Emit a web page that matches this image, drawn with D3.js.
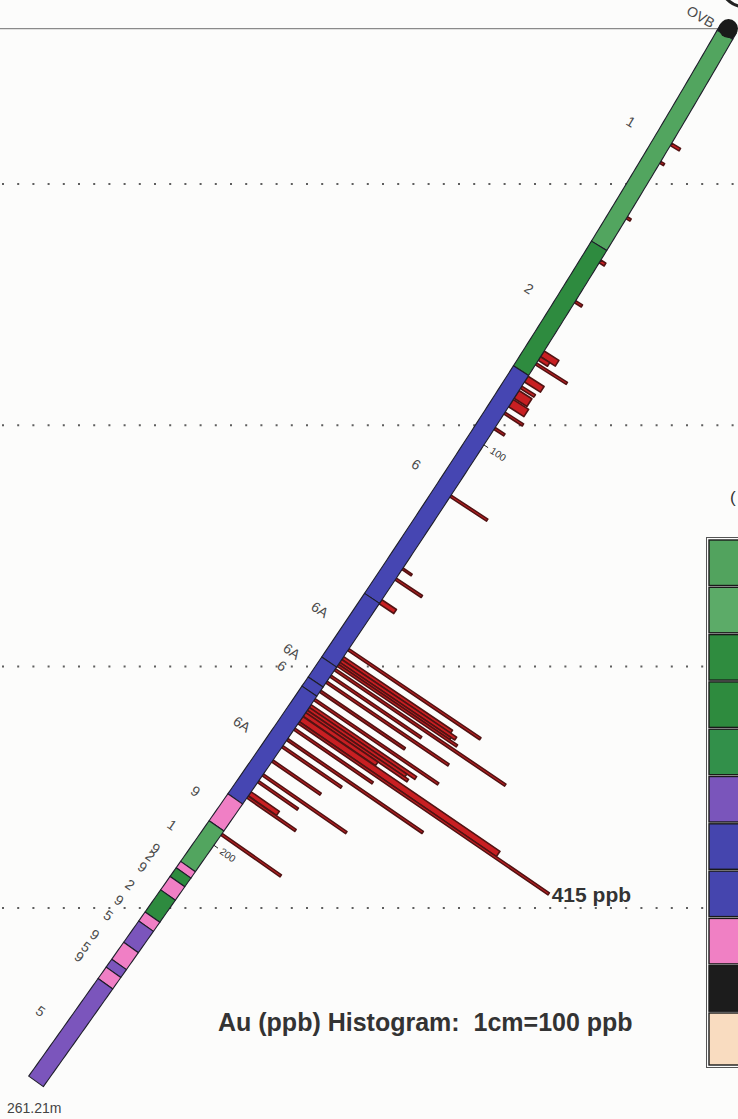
<!DOCTYPE html>
<html><head><meta charset="utf-8">
<script src="https://cdn.jsdelivr.net/npm/d3@7"></script>
<style>
html,body{margin:0;padding:0;background:#fcfcfb;}
svg{display:block;}
text{font-family:"Liberation Sans",Arial,sans-serif;}
</style></head>
<body>
<svg id="chart" width="738" height="1119"></svg>
<script>
// Downhole survey: measured depth (m) and dip below horizontal (degrees)
const surveyDepth = [0, 50, 100, 150, 200, 261.21];
const surveyDip   = [60, 58.5, 57, 56, 55, 54.5];
const holeLength = 261.21;
const collarElevation = 332.2;          // m
const gridElevations = [300, 250, 200, 150];
const depthTicks = [100, 200];

// Logged lithology intervals (m) and unit codes
const lithFrom = [0, 1.5, 52.4, 82.9, 139.3, 155.2, 160.2, 162.5, 189.6, 196.4, 206.7, 208.3, 210.5, 213.9, 219.5, 221.8, 227.2, 231.5, 233.5, 236.4];
const lithTo   = [1.5, 52.4, 82.9, 139.3, 155.2, 160.2, 162.5, 189.6, 196.4, 206.7, 208.3, 210.5, 213.9, 219.5, 221.8, 227.2, 231.5, 233.5, 236.4, 261.21];
const lithCode = ["OVB", "1", "2", "6", "6A", "6A", "6", "6A", "9", "1", "9", "2", "9", "2", "9", "5", "9", "5", "9", "5"];

// Au assay intervals (m) and grades (ppb)
const auFrom = [26.4, 30.8, 44.2, 54.7, 64.6, 76.9, 78.3, 79.8, 83.1, 85.5, 86.6, 88.8, 91.9, 95.7,
                112.4, 130.5, 133.0, 138.4,
                150.6, 152.6, 153.3, 154.0, 154.5, 155.6, 157.2, 158.7, 161.0, 163.1, 164.6, 165.3, 166.0, 166.6, 167.6, 168.9, 170.5, 173.1, 174.9, 178.5, 182.0, 183.7, 186.5, 187.6, 197.0];
const auTo   = [27.0, 31.3, 44.7, 55.4, 65.1, 78.3, 79.2, 80.3, 84.5, 86.1, 88.5, 90.6, 92.4, 96.2,
                112.9, 130.9, 133.5, 139.4,
                151.1, 153.3, 154.0, 154.5, 155.0, 156.1, 157.7, 159.2, 161.5, 163.6, 165.3, 166.0, 166.6, 167.5, 168.9, 169.4, 171.0, 173.6, 175.4, 179.0, 182.5, 184.2, 187.5, 188.1, 197.5];
const auPpb  = [14, 6, 6, 8, 11, 24, 15, 50, 26, 22, 21, 25, 30, 16,
                60, 15, 43, 24,
                218, 180, 190, 184, 197, 282, 150, 202, 140, 205, 175, 162, 168, 120, 327, 415, 130, 225, 98, 80, 139, 66, 47, 80, 99];

// Legend swatches
const legendColors = ["#52a35e", "#5cab68", "#2f8c3f", "#2e8b3e", "#32904a", "#7a55bb", "#4545ae", "#4545ae", "#f080c4", "#1c1c1c", "#f9dcc0"];

const unitColor = {"OVB": "#1c1c1c", "1": "#52a55f", "2": "#2e8b3f", "6": "#4646b2", "6A": "#4646b2", "5": "#7b55bc", "9": "#f07fc5"};

const W = 738, H = 1119;
const svg = d3.select("#chart");
svg.append("rect").attr("width", W).attr("height", H).attr("fill", "#fcfcfb");

// Section scales (equal metres per pixel on both axes)
const pxPerM = 4.826;
const collarX = 728.5;
const x = d3.scaleLinear().domain([0, -100]).range([collarX, collarX - 100 * pxPerM]);
const y = d3.scaleLinear().domain([300, 250]).range([184, 184 + 50 * pxPerM]);
const dipAt = d3.scaleLinear().domain(surveyDepth).range(surveyDip).clamp(true);
const barLen = d3.scaleLinear().domain([0, 100]).range([0, 73]);
const halfW = 9;

// Desurvey the hole trace by small-step integration
const step = 0.05;
const stations = [];
{
  let e = 0, z = collarElevation;
  for (let md = 0; md <= holeLength + 1e-9; md += step) {
    stations.push({md, e, z});
    const dip = dipAt(md + step / 2) * Math.PI / 180;
    e -= step * Math.cos(dip);
    z -= step * Math.sin(dip);
  }
}
function at(md) {
  const i = Math.max(0, Math.min(stations.length - 2, Math.floor(md / step)));
  const s0 = stations[i], s1 = stations[i + 1];
  const t = (md - s0.md) / step;
  const e = s0.e + (s1.e - s0.e) * t, z = s0.z + (s1.z - s0.z) * t;
  const dip = dipAt(md) * Math.PI / 180;
  return {px: x(e), py: y(z), nx: Math.sin(dip), ny: Math.cos(dip), dip};
}
function offset(md, d) {
  const p = at(md);
  return [p.px + p.nx * d, p.py + p.ny * d];
}

// Surface and elevation grid
svg.append("line")
  .attr("x1", 0).attr("x2", x(0) - 6)
  .attr("y1", y(collarElevation)).attr("y2", y(collarElevation))
  .attr("stroke", "#8a8a8a").attr("stroke-width", 1.2);

svg.append("g").selectAll("line").data(gridElevations).join("line")
  .attr("x1", 2).attr("x2", W)
  .attr("y1", d => y(d)).attr("y2", d => y(d))
  .attr("stroke", "#5e5e5e").attr("stroke-width", 2)
  .attr("stroke-dasharray", "2 13.2");

// Au histogram bars, perpendicular to the trace
const bars = d3.range(auFrom.length).map(i => ({from: auFrom[i], to: auTo[i], ppb: auPpb[i]}));
svg.append("g").selectAll("path").data(bars).join("path")
  .attr("d", b => {
    const L = halfW + barLen(b.ppb);
    return "M" + [offset(b.from, halfW), offset(b.from, L), offset(b.to, L), offset(b.to, halfW)].join("L") + "Z";
  })
  .attr("fill", "#c81f22").attr("stroke", "#521313").attr("stroke-width", 1.6)
  .attr("stroke-linejoin", "round");

// Lithology column along the hole
const lith = d3.range(lithFrom.length).map(i => ({from: lithFrom[i], to: lithTo[i], code: lithCode[i]}));
function intervalPath(a, b) {
  const ds = d3.range(a, b, 1).concat([b]);
  const left = ds.map(d => offset(d, -halfW));
  const right = ds.map(d => offset(d, halfW)).reverse();
  return "M" + left.concat(right).join("L") + "Z";
}
svg.append("g").selectAll("path").data(lith).join("path")
  .attr("d", d => intervalPath(d.from, d.to))
  .attr("fill", d => unitColor[d.code])
  .attr("stroke", "#1e1e2a").attr("stroke-width", 1.1).attr("stroke-linejoin", "round");

// Overburden collar marker
svg.append("circle").attr("cx", at(0).px).attr("cy", at(0).py).attr("r", 9.5).attr("fill", "#1a1a1a");

// Unit labels on the left of the trace
svg.append("g").selectAll("text").data(lith).join("text")
  .each(function(d) {
    const md = (d.from + d.to) / 2;
    const p = at(md);
    const [tx, ty] = offset(md, d.code === "OVB" ? -30 : -37);
    const ang = 90 - p.dip * 180 / Math.PI;
    d3.select(this).attr("transform", `translate(${tx},${ty}) rotate(${ang})`);
  })
  .attr("text-anchor", "middle").attr("dy", "0.35em")
  .attr("font-size", 14).attr("fill", "#4a4a4a")
  .text(d => d.code);

// Depth ticks and labels on the right of the trace
svg.append("g").selectAll("line").data(depthTicks).join("line")
  .each(function(d) {
    const [x1, y1] = offset(d, halfW), [x2, y2] = offset(d, halfW + 5);
    d3.select(this).attr("x1", x1).attr("y1", y1).attr("x2", x2).attr("y2", y2);
  })
  .attr("stroke", "#222").attr("stroke-width", 1);
svg.append("g").selectAll("text").data(depthTicks).join("text")
  .each(function(d) {
    const p = at(d);
    const [tx, ty] = offset(d, 26);
    d3.select(this).attr("transform", `translate(${tx},${ty}) rotate(${90 - p.dip * 180 / Math.PI})`);
  })
  .attr("text-anchor", "middle").attr("dy", "0.35em")
  .attr("font-size", 10).attr("fill", "#333")
  .text(d => d);

// Peak value annotation
const peak = bars.reduce((a, b) => (b.ppb > a.ppb ? b : a));
{
  const md = (peak.from + peak.to) / 2;
  const [tx, ty] = offset(md, halfW + barLen(peak.ppb));
  svg.append("text").attr("x", tx + 3).attr("y", ty + 8)
    .attr("font-size", 21).attr("font-weight", "bold").attr("fill", "#333")
    .text(peak.ppb + " ppb");
}

// End-of-hole depth
svg.append("text").attr("x", 7).attr("y", 1113)
  .attr("font-size", 14).attr("fill", "#444")
  .text(holeLength.toFixed(2) + "m");

// Histogram scale caption
svg.append("text").attr("x", 218).attr("y", 1031)
  .attr("font-size", 25).attr("font-weight", "bold").attr("fill", "#333")
  .style("white-space", "pre")
  .text("Au (ppb) Histogram:  1cm=100 ppb");

// Lithology legend swatches (right edge)
const lg = svg.append("g");
lg.append("rect").attr("x", 706.5).attr("y", 537.5).attr("width", 50).attr("height", 530)
  .attr("fill", "none").attr("stroke", "#555").attr("stroke-width", 1);
lg.selectAll("rect.sw").data(legendColors).join("rect").attr("class", "sw")
  .attr("x", 709).attr("y", (d, i) => 540 + i * 47.3)
  .attr("width", 50).attr("height", (d, i) => i === legendColors.length - 1 ? 52 : 45.5)
  .attr("fill", d => d).attr("stroke", "#1a1a1a").attr("stroke-width", 1.4);
lg.append("text").attr("x", 730).attr("y", 503).attr("font-size", 17).attr("fill", "#333").text("(");

// Partial ring at the top-right corner
svg.append("circle").attr("cx", 746).attr("cy", -20).attr("r", 27)
  .attr("fill", "none").attr("stroke", "#222").attr("stroke-width", 3);
</script>
</body></html>
